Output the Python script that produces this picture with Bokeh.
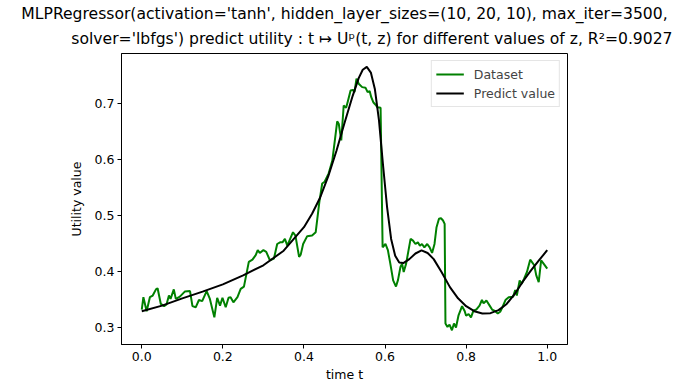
from bokeh.plotting import figure
from bokeh.models import Title, FixedTicker, PrintfTickFormatter, Legend, LegendItem
from bokeh.embed import file_html
from bokeh.resources import INLINE

# Dataset (green)
t_data = [0.000, 0.004, 0.012, 0.020, 0.027, 0.035, 0.039, 0.047, 0.055, 0.061,
          0.067, 0.071, 0.079, 0.084, 0.094, 0.106, 0.119, 0.125, 0.133, 0.141,
          0.149, 0.160, 0.168, 0.179, 0.186, 0.193, 0.199, 0.207, 0.214, 0.219,
          0.226, 0.236, 0.244, 0.252, 0.264, 0.273, 0.281, 0.286, 0.291, 0.300,
          0.307, 0.316, 0.326, 0.334, 0.341, 0.347, 0.353, 0.359, 0.366, 0.373,
          0.379, 0.388, 0.392, 0.398, 0.408, 0.420, 0.429, 0.438, 0.445, 0.451,
          0.461, 0.470, 0.482, 0.486, 0.492, 0.498, 0.504, 0.508, 0.515, 0.5205,
          0.5246, 0.5296, 0.535, 0.5436, 0.5517, 0.557, 0.562, 0.566, 0.571, 0.576,
          0.581, 0.589, 0.594, 0.601, 0.607, 0.613, 0.620, 0.627, 0.632, 0.638,
          0.642, 0.646, 0.652, 0.658, 0.663, 0.669, 0.675, 0.681, 0.686, 0.691,
          0.697, 0.704, 0.710, 0.716, 0.722, 0.727, 0.733, 0.738, 0.743, 0.747,
          0.749, 0.754, 0.759, 0.765, 0.770, 0.775, 0.781, 0.790, 0.796, 0.800,
          0.806, 0.812, 0.818, 0.825, 0.833, 0.839, 0.843, 0.850, 0.858, 0.864,
          0.872, 0.878, 0.884, 0.890, 0.897, 0.905, 0.916, 0.921, 0.925, 0.932,
          0.937, 0.943, 0.950, 0.958, 0.962, 0.968, 0.973, 0.979, 0.985, 0.991,
          1.000]
u_data = [0.332, 0.354, 0.329, 0.354, 0.357, 0.368, 0.370, 0.342, 0.338, 0.341,
          0.357, 0.351, 0.368, 0.351, 0.355, 0.364, 0.365, 0.338, 0.336, 0.349,
          0.347, 0.365, 0.351, 0.318, 0.353, 0.339, 0.353, 0.336, 0.353, 0.354,
          0.345, 0.354, 0.369, 0.373, 0.417, 0.421, 0.429, 0.438, 0.433, 0.438,
          0.435, 0.420, 0.423, 0.449, 0.452, 0.452, 0.458, 0.446, 0.458, 0.470,
          0.464, 0.426, 0.430, 0.449, 0.463, 0.464, 0.470, 0.524, 0.557, 0.560,
          0.575, 0.598, 0.668, 0.663, 0.634, 0.696, 0.692, 0.703, 0.723, 0.724,
          0.720, 0.744, 0.735, 0.729, 0.728, 0.720, 0.722, 0.711, 0.702, 0.698,
          0.693, 0.692, 0.443, 0.449, 0.438, 0.414, 0.384, 0.373, 0.385, 0.408,
          0.414, 0.399, 0.414, 0.438, 0.458, 0.455, 0.449, 0.452, 0.446, 0.449,
          0.443, 0.449, 0.443, 0.433, 0.449, 0.479, 0.494, 0.495, 0.491, 0.485,
          0.307, 0.301, 0.305, 0.295, 0.307, 0.300, 0.321, 0.338, 0.330, 0.321,
          0.324, 0.318, 0.330, 0.332, 0.339, 0.349, 0.343, 0.348, 0.339, 0.332,
          0.329, 0.325, 0.328, 0.337, 0.349, 0.354, 0.355, 0.367, 0.357, 0.384,
          0.378, 0.387, 0.399, 0.421, 0.417, 0.411, 0.393, 0.381, 0.420, 0.414,
          0.405]

# Predicted values (black)
t_pred = [0.0, 0.05, 0.1, 0.15, 0.2, 0.25, 0.3, 0.35, 0.4, 0.42, 0.44, 0.46, 0.48,
          0.5, 0.52, 0.535, 0.545, 0.555, 0.565, 0.575, 0.585, 0.595, 0.605, 0.615,
          0.625, 0.635, 0.645, 0.66, 0.675, 0.69, 0.705, 0.72, 0.74, 0.76, 0.78,
          0.8, 0.82, 0.84, 0.86, 0.88, 0.9, 0.92, 0.94, 0.96, 0.98, 1.0]
u_pred = [0.329, 0.339, 0.352, 0.364, 0.377, 0.393, 0.411, 0.437, 0.479, 0.503,
          0.532, 0.570, 0.615, 0.665, 0.713, 0.745, 0.760, 0.765, 0.755, 0.725,
          0.670, 0.590, 0.515, 0.458, 0.428, 0.416, 0.415, 0.422, 0.432, 0.4375,
          0.433, 0.422, 0.398, 0.372, 0.352, 0.338, 0.329, 0.325, 0.3255, 0.331,
          0.342, 0.360, 0.382, 0.402, 0.420, 0.438]

x_ticks = [0.0, 0.2, 0.4, 0.6, 0.8, 1.0]
y_ticks = [0.3, 0.4, 0.5, 0.6, 0.7]

title_line1 = "MLPRegressor(activation='tanh', hidden_layer_sizes=(10, 20, 10), max_iter=3500,"
title_line2 = "solver='lbfgs') predict utility : t \u21a6 U\u1d56(t, z) for different values of  z, R\u00b2=0.9027"

FONT = "DejaVu Sans"

p = figure(frame_width=446, frame_height=291, output_backend="svg", toolbar_location=None,
           x_range=(-0.05, 1.05), y_range=(0.2696, 0.789),
           min_border_left=121, min_border_right=105, min_border_top=53, min_border_bottom=38)
p.title = None

t2 = Title(text=title_line2, align="right", offset=-110, text_font=FONT,
           text_font_size="15.6px", text_font_style="normal", text_color="black",
           standoff=11)
t1 = Title(text=title_line1, align="center", text_font=FONT,
           text_font_size="15.6px", text_font_style="normal", text_color="black",
           standoff=0)
p.add_layout(t2, "above")
p.add_layout(t1, "above")

r1 = p.line(t_data, u_data, line_color="#008000", line_width=2)
r2 = p.line(t_pred, u_pred, line_color="black", line_width=2)

legend = Legend(items=[LegendItem(label="Dataset", renderers=[r1]),
                       LegendItem(label="Predict value", renderers=[r2])],
                location="top_right")
legend.label_text_font = FONT
legend.label_text_font_size = "12.5px"
legend.glyph_width = 28
legend.glyph_height = 18
legend.label_height = 18
legend.label_standoff = 10
legend.spacing = 1
legend.padding = 4
legend.margin = 7
legend.border_line_color = "#cccccc"
legend.border_line_width = 1
legend.background_fill_alpha = 0.8
p.add_layout(legend)

p.xgrid.visible = False
p.ygrid.visible = False
p.outline_line_color = "black"
p.outline_line_width = 1

p.xaxis.ticker = FixedTicker(ticks=x_ticks)
p.yaxis.ticker = FixedTicker(ticks=y_ticks)
for ax in (p.xaxis[0], p.yaxis[0]):
    ax.formatter = PrintfTickFormatter(format="%.1f")
    ax.major_tick_in = 0
    ax.major_tick_out = 4
    ax.minor_tick_in = 0
    ax.minor_tick_out = 0
    ax.major_label_standoff = 3
    ax.major_label_text_font = FONT
    ax.major_label_text_font_size = "12.5px"
    ax.major_label_text_color = "black"
    ax.axis_label_text_font = FONT
    ax.axis_label_text_font_size = "12.5px"
    ax.axis_label_text_font_style = "normal"
    ax.axis_label_text_color = "black"
    ax.axis_line_color = "black"
    ax.major_tick_line_color = "black"
p.xaxis.axis_label = "time t"
p.yaxis.axis_label = "Utility value"
p.xaxis.axis_label_standoff = 3
p.yaxis.axis_label_standoff = 8

open("out.html", "w").write(file_html(p, INLINE))
